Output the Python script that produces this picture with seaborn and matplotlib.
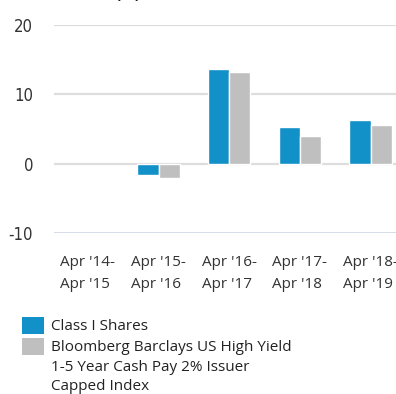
import matplotlib
matplotlib.use("Agg")
import matplotlib.pyplot as plt
import matplotlib.patches as mpatches
import numpy as np
import pandas as pd
import seaborn as sns

# Annual total returns (%) by 12-month period (first period: no data)
periods = ["Apr '14-\nApr '15", "Apr '15-\nApr '16", "Apr '16-\nApr '17",
           "Apr '17-\nApr '18", "Apr '18-\nApr '19"]
series_names = ["Class I Shares",
                "Bloomberg Barclays US High Yield\n1-5 Year Cash Pay 2% Issuer\nCapped Index"]
class_i = [np.nan, -1.7, 13.6, 5.3, 6.2]
index_returns = [np.nan, -2.1, 13.2, 4.0, 5.5]
colors = ["#1290C8", "#BFBFBF"]
y_ticks = [-10, 0, 10, 20]

df = pd.DataFrame({
    "period": periods * 2,
    "series": [series_names[0]] * len(periods) + [series_names[1]] * len(periods),
    "value": class_i + index_returns,
})

sns.set_theme(style="white")
plt.rcParams["font.family"] = ["Open Sans", "DejaVu Sans"]

W, H = 396, 394
fig = plt.figure(figsize=(W / 100, H / 100), dpi=100)
ax = fig.add_axes([54 / W, 1 - 233 / H, (W - 54) / W, (233 - 24.5) / H])

sns.barplot(data=df, x="period", y="value", hue="series", order=periods,
            hue_order=series_names, palette=colors, width=0.6,
            edgecolor="white", linewidth=1.0, saturation=1, legend=False,
            ax=ax, zorder=3)

ax.set_xlim(-0.48, 4.36)
ax.set_ylim(-10, 20)
ax.set_yticks(y_ticks)
ax.set_yticklabels([str(v) for v in y_ticks])
for lab in ax.get_yticklabels():
    lab.set_family("DejaVu Sans")
    lab.set_fontstretch("condensed")
    lab.set_fontsize(12)
    lab.set_color("#333333")
for v in y_ticks[1:]:
    ax.axhline(v, color="#DDDDDD", linewidth=1.6, zorder=1)
ax.axhline(-10, color="#C9D3DE", linewidth=1.8, zorder=1)

ax.tick_params(axis="y", length=0, pad=15)
ax.tick_params(axis="x", length=0, pad=16)
for lab in ax.get_xticklabels():
    lab.set_fontsize(11)
    lab.set_color("#333333")
    lab.set_multialignment("left")
    lab.set_linespacing(1.6)
ax.set_xlabel("")
ax.set_ylabel("")
for s in ax.spines.values():
    s.set_visible(False)

# Title sitting at the very top edge
fig.text(140 / W, 1 + 2 / H, "Total Returns (%)", ha="right", va="baseline",
         fontsize=11, fontweight="bold", color="#222222")

# Legend
legend_rows = [(317, colors[0], series_names[0]), (338, colors[1], series_names[1])]
for top, col, name in legend_rows:
    fig.patches.append(mpatches.Rectangle((22 / W, 1 - (top + 17) / H), 22 / W, 17 / H,
                                          transform=fig.transFigure, facecolor=col,
                                          edgecolor="none"))
    fig.text(51 / W, 1 - (top + 2) / H, name, ha="left", va="top",
             fontsize=11, color="#222222", linespacing=1.42)

fig.savefig("out.png", dpi=100)
